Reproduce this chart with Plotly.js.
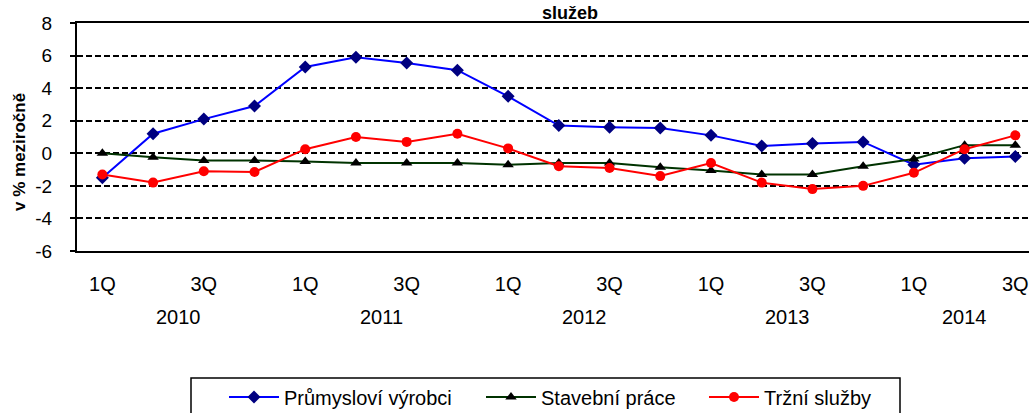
<!DOCTYPE html>
<html>
<head>
<meta charset="utf-8">
<script src="https://cdn.plot.ly/plotly-3.0.1.min.js"></script>
<style>
html,body{margin:0;padding:0;background:#fff;overflow:hidden;}
#chart{width:1029px;height:413px;}
</style>
</head>
<body>
<div id="chart"></div>
<script>
// Quarters 2010 Q1 ... 2014 Q3
var periods = ["2010 1Q","2010 2Q","2010 3Q","2010 4Q",
               "2011 1Q","2011 2Q","2011 3Q","2011 4Q",
               "2012 1Q","2012 2Q","2012 3Q","2012 4Q",
               "2013 1Q","2013 2Q","2013 3Q","2013 4Q",
               "2014 1Q","2014 2Q","2014 3Q"];
var tickPeriods = ["2010 1Q","2010 3Q","2011 1Q","2011 3Q","2012 1Q","2012 3Q",
                   "2013 1Q","2013 3Q","2014 1Q","2014 3Q"];
var tickLabels = ["1Q","3Q","1Q","3Q","1Q","3Q","1Q","3Q","1Q","3Q"];
var years = ["2010","2011","2012","2013","2014"];
var yearCenters = [1.5, 5.5, 9.5, 13.5, 17];
var yTickVals = [-6, -4, -2, 0, 2, 4, 6, 8];
var yTickText = ["-6", "-4", "-2", "0", "2", "4", "6", "8"];

var prumysl = [-1.5, 1.2, 2.1, 2.9, 5.3, 5.9, 5.55, 5.1, 3.5,
               1.7, 1.6, 1.55, 1.1, 0.45, 0.6, 0.7, -0.7, -0.3, -0.2];
var stavebni = [0.0, -0.25, -0.45, -0.45, -0.5, -0.6, -0.6, -0.6, -0.7,
                -0.6, -0.6, -0.85, -1.05, -1.3, -1.3, -0.8, -0.35, 0.5, 0.5];
var trzni = [-1.3, -1.8, -1.1, -1.15, 0.25, 1.0, 0.7, 1.2, 0.3,
             -0.8, -0.9, -1.4, -0.6, -1.8, -2.2, -2.0, -1.2, 0.25, 1.1];

var names = ["Průmysloví výrobci","Stavební práce","Tržní služby"];

var traces = [
  {x: periods, y: prumysl, name: names[0], type: "scatter", mode: "lines+markers",
   legend: "legend",
   line: {color: "#0000FF", width: 2},
   marker: {symbol: "diamond", size: 10, color: "#000080"}},
  {x: periods, y: stavebni, name: names[1], type: "scatter", mode: "lines+markers",
   legend: "legend2",
   line: {color: "#003300", width: 2},
   marker: {symbol: "triangle-up", size: 10, color: "#000000"}},
  {x: periods, y: trzni, name: names[2], type: "scatter", mode: "lines+markers",
   legend: "legend3",
   line: {color: "#FF0000", width: 2},
   marker: {symbol: "circle", size: 10, color: "#FF0000"}}
];

var FONT = "Liberation Sans, Arial, sans-serif";
var PLOT_L = 77, PLOT_T = 23, PLOT_B = 251, PLOT_W = 1029 - 77, PLOT_H = 251 - 23;
function px(xPix) { return (xPix - PLOT_L) / PLOT_W; }
function py(yPix) { return (PLOT_B - yPix) / PLOT_H; }

var annotations = years.map(function(y, i){
  return {text: y, x: yearCenters[i], xref: "x", y: py(317), yref: "paper",
          yanchor: "middle", xanchor: "center", showarrow: false,
          font: {family: FONT, size: 20, color: "#000"}};
});
annotations.push({text: "<b>služeb</b>", x: px(570), xref: "paper", y: py(24), yref: "paper",
  yanchor: "bottom", xanchor: "center", showarrow: false, borderpad: 0,
  font: {family: FONT, size: 18, color: "#000"}});
annotations.push({text: "<b>v % meziročně</b>", x: px(19), xref: "paper", y: py(152), yref: "paper",
  xanchor: "center", yanchor: "middle", textangle: -90, showarrow: false,
  font: {family: FONT, size: 17, color: "#000"}});

function legendAt(xPix) {
  return {orientation: "h", xref: "container", yref: "container",
          x: xPix / 1029, xanchor: "left", y: 16 / 413, yanchor: "middle",
          font: {family: FONT, size: 20, color: "#000"}, bgcolor: "rgba(0,0,0,0)",
          borderwidth: 0, itemwidth: 50};
}

var layout = {
  width: 1029, height: 413,
  margin: {l: PLOT_L, r: 0, t: PLOT_T, b: 413 - PLOT_B, pad: 0},
  paper_bgcolor: "#fff", plot_bgcolor: "#fff",
  font: {family: FONT, color: "#000"},
  showlegend: true,
  legend: legendAt(224),
  legend2: legendAt(481),
  legend3: legendAt(704),
  xaxis: {type: "category", categoryorder: "array", categoryarray: periods,
          range: [-0.5, 18.27], tickmode: "array", tickvals: tickPeriods, ticktext: tickLabels,
          showgrid: false, zeroline: false, showline: true, linecolor: "#000", linewidth: 2,
          mirror: true, ticks: "", ticklabelstandoff: 14,
          tickfont: {family: FONT, size: 20, color: "#000"}, fixedrange: true, automargin: false},
  yaxis: {range: [-6, 8], tickmode: "array", tickvals: yTickVals, ticktext: yTickText,
          showgrid: true, gridcolor: "#000",
          gridwidth: 2, griddash: "6px,3px", zeroline: false,
          showline: true, linecolor: "#000", linewidth: 2, ticks: "outside", ticklen: 5,
          tickwidth: 2, tickcolor: "#000", ticklabelstandoff: 14,
          tickfont: {family: FONT, size: 19, color: "#000"},
          fixedrange: true, automargin: false},
  shapes: [
    {type: "rect", xref: "paper", yref: "paper",
     x0: px(191), x1: px(900), y0: py(430), y1: py(378),
     line: {color: "#000", width: 1.5}, fillcolor: "rgba(0,0,0,0)", layer: "below"}
  ],
  annotations: annotations
};

Plotly.newPlot("chart", traces, layout, {staticPlot: true, displayModeBar: false});
</script>
</body>
</html>
